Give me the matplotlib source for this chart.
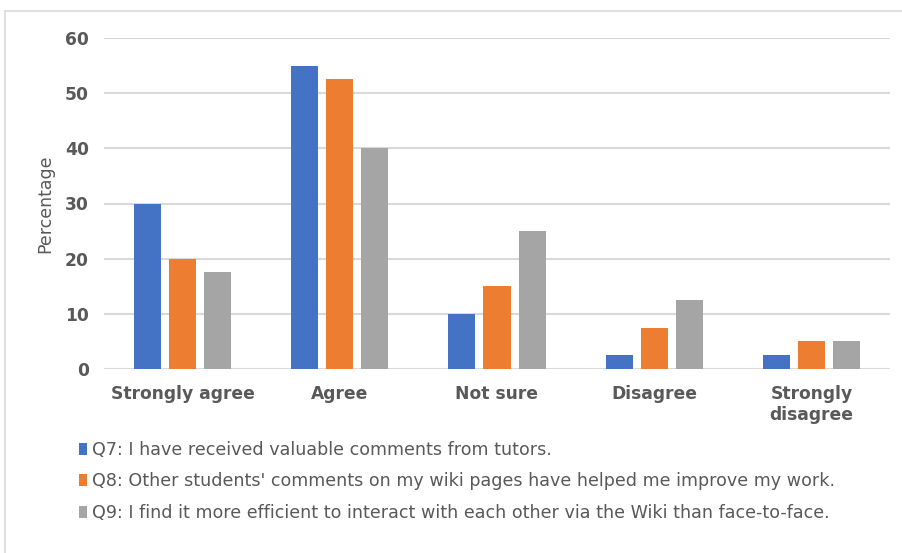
import matplotlib
matplotlib.use("Agg")
import matplotlib.pyplot as plt
from matplotlib.patches import Rectangle
import numpy as np

categories = ["Strongly agree", "Agree", "Not sure", "Disagree", "Strongly\ndisagree"]
series_names = [
    "Q7: I have received valuable comments from tutors.",
    "Q8: Other students' comments on my wiki pages have helped me improve my work.",
    "Q9: I find it more efficient to interact with each other via the Wiki than face-to-face.",
]
q7 = [30, 55, 10, 2.5, 2.5]
q8 = [20, 52.5, 15, 7.5, 5]
q9 = [17.5, 40, 25, 12.5, 5]
y_ticks = [0, 10, 20, 30, 40, 50, 60]

colors = ["#4472C4", "#ED7D31", "#A5A5A5"]
text_color = "#595959"

plt.rcParams["font.family"] = ["DejaVu Sans"]

fig = plt.figure(figsize=(9.03, 5.53), dpi=100)

# outer chart frame
fig.patches.append(Rectangle((5 / 903, -0.1), 1.2, 1 - 11 / 553 + 0.1,
                             transform=fig.transFigure, fill=False,
                             edgecolor="#D9D9D9", linewidth=1.2, zorder=0))

ax = fig.add_axes([104 / 903, 1 - 369 / 553, (890 - 104) / 903, (369 - 38) / 553])

x = np.arange(len(categories))
width = 0.172
step = 0.223
bars = []
for i, (vals, c) in enumerate(zip([q7, q8, q9], colors)):
    b = ax.bar(x + (i - 1) * step, vals, width, color=c, zorder=3)
    bars.append(b)

ax.set_xlim(-0.5, len(categories) - 0.5)
ax.set_ylim(0, 60)
ax.set_yticks(y_ticks)
ax.yaxis.grid(True, color="#D9D9D9", linewidth=1.5, zorder=0)
ax.set_axisbelow(True)
for s in ax.spines.values():
    s.set_visible(False)
ax.tick_params(axis="both", length=0, colors=text_color)
ax.tick_params(axis="y", pad=11)
ax.tick_params(axis="x", pad=11.5)
ax.set_xticks(x)
ax.set_xticklabels(categories, fontsize=12.3, fontweight="bold", color=text_color,
                   linespacing=1.22, va="top")
for lbl in ax.get_yticklabels():
    lbl.set_fontsize(12.3)
    lbl.set_fontweight("bold")
    lbl.set_color(text_color)
ax.set_ylabel("Percentage", fontsize=12.5, color=text_color)
ax.yaxis.set_label_coords(-0.063, 0.5)

leg = fig.legend(bars, series_names, loc="upper left",
                 bbox_to_anchor=(79 / 903, 1 - 441 / 553), frameon=False,
                 fontsize=12.6, handlelength=0.45, handleheight=0.65,
                 handletextpad=0.3, labelspacing=0.77, borderaxespad=0,
                 borderpad=0)
for t in leg.get_texts():
    t.set_color(text_color)

fig.savefig("out.png", dpi=100)
